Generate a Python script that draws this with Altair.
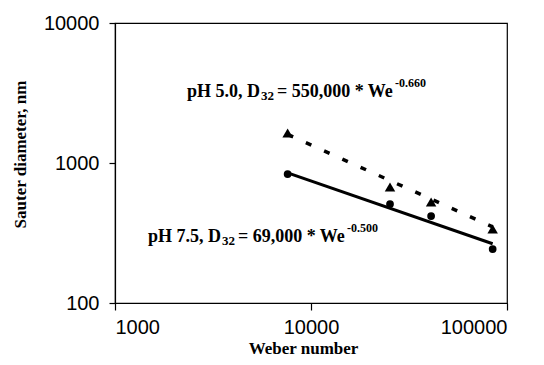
import altair as alt
import pandas as pd

weber = [7600, 25300, 41000, 84500]
d_ph50 = [1640, 674, 526, 338]   # triangles, pH 5.0
d_ph75 = [834, 509, 418, 243]    # circles, pH 7.5

# Power-law trend lines (end points)
fit_we = [7600, 84500]
fit_ph50 = [1600, 350]
fit_ph75 = [850, 265]

x_ticks = [1000, 10000, 100000]
y_ticks = [100, 1000, 10000]

# Annotation anchors (data coordinates) and pieces
ann50_at = (2328, 2960)
ann75_at = (1472, 273)
ann50 = ["pH 5.0, D", "32", "= 550,000 * We", "-0.660"]
ann75 = ["pH 7.5, D", "32", "= 69,000 * We", "-0.500"]

pts50 = pd.DataFrame({"We": weber, "D": d_ph50})
pts75 = pd.DataFrame({"We": weber, "D": d_ph75})
fit50 = pd.DataFrame({"We": fit_we, "D": fit_ph50})
fit75 = pd.DataFrame({"We": fit_we, "D": fit_ph75})

xs = alt.Scale(type="log", domain=[1000, 100000], nice=False)
ys = alt.Scale(type="log", domain=[100, 10000], nice=False)

x_enc = alt.X("We:Q", scale=xs, axis=alt.Axis(
    values=x_ticks, format="d", title="Weber number", grid=False,
    tickSize=7, labelPadding=7, titleX=188, titleY=50,
    titleBaseline="alphabetic", titleAlign="center"))
y_enc = alt.Y("D:Q", scale=ys, axis=alt.Axis(
    values=y_ticks, format="d", title="Sauter diameter, nm", grid=False,
    tickSize=6, labelPadding=10, titleX=-90, titleY=131, titleAngle=-90,
    titleBaseline="alphabetic", titleAlign="center"))

line75 = alt.Chart(fit75).mark_line(color="black", strokeWidth=3).encode(x=x_enc, y=y_enc)
line50 = alt.Chart(fit50).mark_line(color="black", strokeWidth=3.5, strokeDash=[6, 14]).encode(x="We:Q", y="D:Q")
p50 = alt.Chart(pts50).mark_point(shape="triangle-up", filled=True, color="black", size=110, opacity=1).encode(x="We:Q", y="D:Q")
p75 = alt.Chart(pts75).mark_point(shape="circle", filled=True, color="black", size=60, opacity=1).encode(x="We:Q", y="D:Q")


def annotation(anchor, pieces, sup_dx):
    df = pd.DataFrame({"We": [anchor[0]], "D": [anchor[1]]})
    base = alt.Chart(df)
    specs = [
        (pieces[0], 0, 0, 18),
        (pieces[1], 74, 3, 13),
        (pieces[2], 90, 0, 18),
        (pieces[3], sup_dx, -10, 12),
    ]
    layers = []
    for txt, dx, dy, size in specs:
        layers.append(base.mark_text(
            text=txt, align="left", baseline="alphabetic", dx=dx, dy=dy,
            font="Liberation Serif", fontWeight="bold", fontSize=size, color="black"
        ).encode(x="We:Q", y="D:Q"))
    return layers


layers = [line75, line50, p50, p75] + annotation(ann50_at, ann50, 208) + annotation(ann75_at, ann75, 199)

chart = alt.layer(*layers).properties(
    width=392, height=280,
    padding={"left": 107, "top": 15, "right": 29, "bottom": 54},
    autosize=alt.AutoSizeParams(type="none"),
    background="white",
).configure_view(stroke="black", strokeWidth=1.2).configure_axis(
    domainColor="black", tickColor="black", labelColor="black",
    labelFont="Liberation Sans", labelFontSize=20, labelFontWeight="normal",
    titleFont="Liberation Serif", titleFontWeight="bold", titleFontSize=17,
    titleColor="black", domainWidth=1.2, tickWidth=1.2,
)

chart.save("out.html", embed_options={"renderer": "svg", "actions": False})
